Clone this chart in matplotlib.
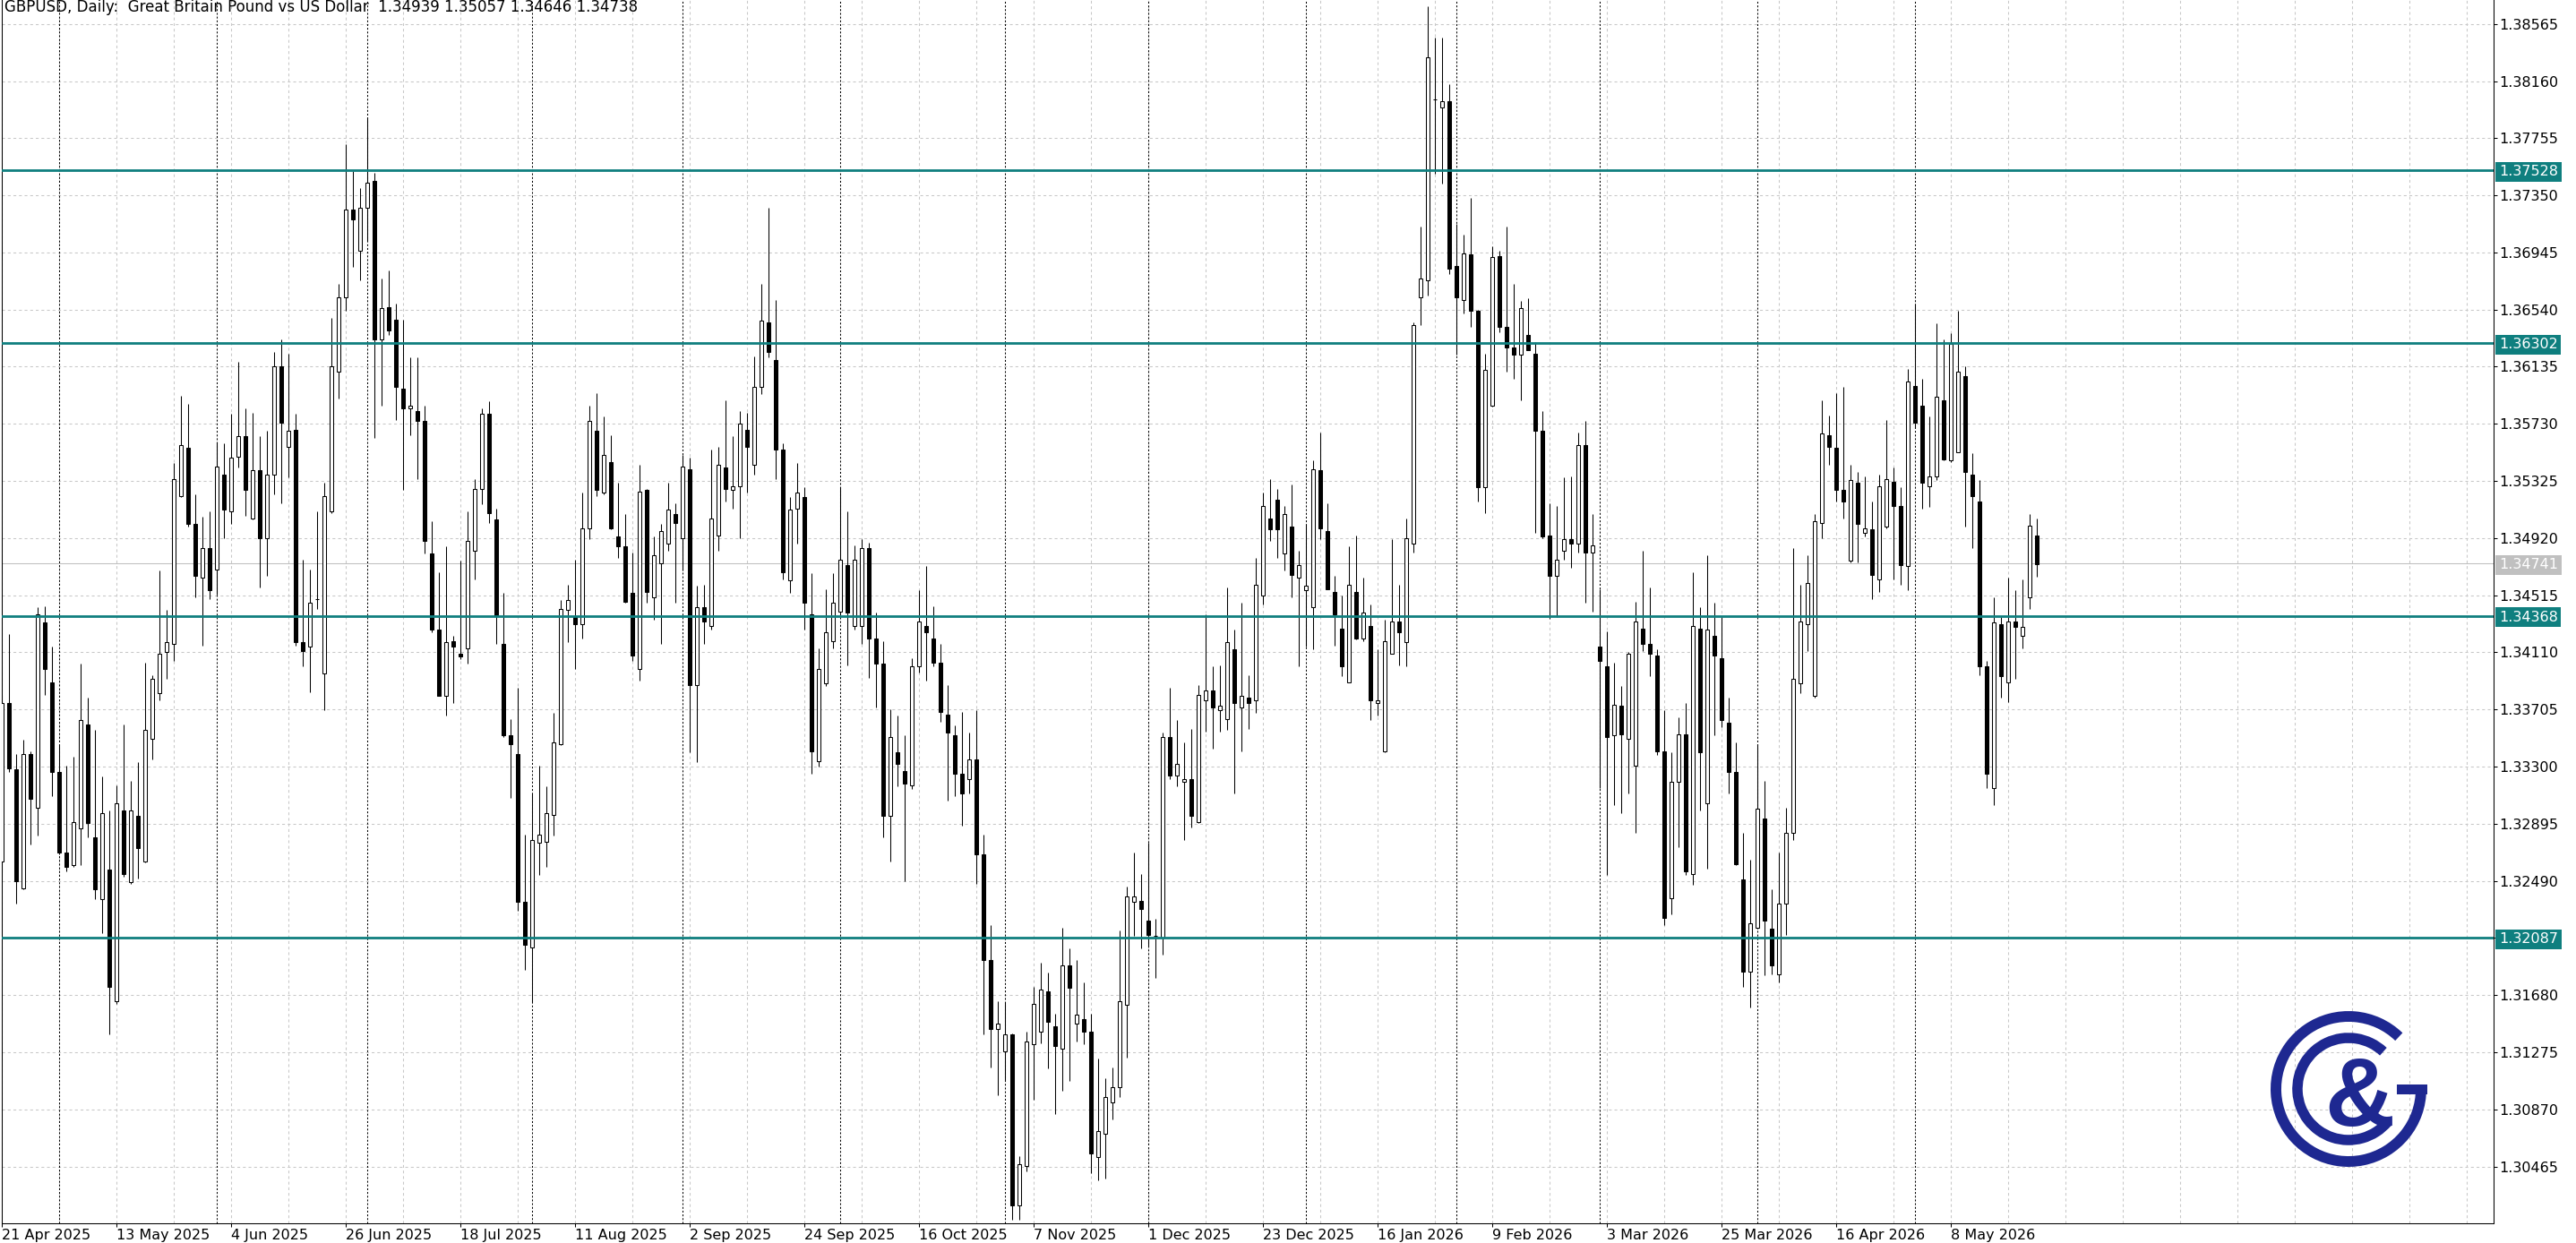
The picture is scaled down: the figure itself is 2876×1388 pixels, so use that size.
import matplotlib
matplotlib.use("Agg")
import matplotlib.pyplot as plt
import matplotlib.transforms as mtransforms
from matplotlib.patches import Arc, Rectangle
import numpy as np
import pandas as pd

plt.rcParams['font.family'] = ['DejaVu Sans']

# ---- daily GBPUSD candles (21 Apr 2025 .. 26 May 2026) ----
opens = [
    1.3263, 1.3375, 1.3328, 1.3244, 1.3339, 1.3301, 1.3432, 1.3390, 1.3326, 1.3269,
    1.3260, 1.3286, 1.3360, 1.3280, 1.3236, 1.3257, 1.3164, 1.3299, 1.3248, 1.3295,
    1.3263, 1.3350, 1.3382, 1.3411, 1.3417, 1.3522, 1.3556, 1.3502, 1.3464, 1.3485,
    1.3470, 1.3537, 1.3511, 1.3550, 1.3564, 1.3506, 1.3540, 1.3492, 1.3537, 1.3614,
    1.3557, 1.3569, 1.3418, 1.3415, 1.3449, 1.3396, 1.3511, 1.3610, 1.3663, 1.3725,
    1.3696, 1.3726, 1.3745, 1.3633, 1.3656, 1.3647, 1.3598, 1.3584, 1.3582, 1.3575,
    1.3481, 1.3427, 1.3380, 1.3419, 1.3410, 1.3414, 1.3483, 1.3527, 1.3580, 1.3505,
    1.3417, 1.3352, 1.3339, 1.3234, 1.3202, 1.3276, 1.3277, 1.3296, 1.3346, 1.3441,
    1.3436, 1.3431, 1.3499, 1.3568, 1.3524, 1.3546, 1.3493, 1.3486, 1.3453, 1.3399,
    1.3526, 1.3450, 1.3474, 1.3488, 1.3509, 1.3492, 1.3541, 1.3388, 1.3443, 1.3430,
    1.3494, 1.3542, 1.3526, 1.3529, 1.3569, 1.3544, 1.3599, 1.3645, 1.3618, 1.3555,
    1.3462, 1.3513, 1.3521, 1.3438, 1.3334, 1.3389, 1.3419, 1.3440, 1.3473, 1.3430,
    1.3430, 1.3485, 1.3421, 1.3403, 1.3295, 1.3340, 1.3327, 1.3317, 1.3401, 1.3430,
    1.3421, 1.3404, 1.3367, 1.3352, 1.3325, 1.3321, 1.3335, 1.3268, 1.3193, 1.3144,
    1.3128, 1.3140, 1.3019, 1.3047, 1.3133, 1.3142, 1.3171, 1.3146, 1.3130, 1.3189,
    1.3148, 1.3151, 1.3142, 1.3053, 1.3070, 1.3092, 1.3103, 1.3161, 1.3234, 1.3235,
    1.3221, 1.3210, 1.3209, 1.3351, 1.3324, 1.3319, 1.3321, 1.3291, 1.3377, 1.3384,
    1.3370, 1.3364, 1.3413, 1.3372, 1.3379, 1.3377, 1.3451, 1.3506, 1.3519, 1.3481,
    1.3500, 1.3464, 1.3455, 1.3443, 1.3540, 1.3497, 1.3454, 1.3428, 1.3390, 1.3454,
    1.3421, 1.3430, 1.3375, 1.3341, 1.3410, 1.3433, 1.3418, 1.3488, 1.3663, 1.3675,
    1.3803, 1.3797, 1.3802, 1.3685, 1.3661, 1.3693, 1.3653, 1.3528, 1.3586, 1.3692,
    1.3642, 1.3627, 1.3622, 1.3636, 1.3623, 1.3568, 1.3494, 1.3465, 1.3483, 1.3491,
    1.3488, 1.3558, 1.3482, 1.3415, 1.3401, 1.3352, 1.3373, 1.3350, 1.3331, 1.3428,
    1.3417, 1.3409, 1.3341, 1.3237, 1.3319, 1.3353, 1.3254, 1.3428, 1.3304, 1.3423,
    1.3407, 1.3361, 1.3326, 1.3250, 1.3185, 1.3216, 1.3293, 1.3215, 1.3183, 1.3233,
    1.3283, 1.3389, 1.3431, 1.3380, 1.3503, 1.3565, 1.3556, 1.3526, 1.3476, 1.3531,
    1.3496, 1.3498, 1.3463, 1.3500, 1.3532, 1.3515, 1.3472, 1.3600, 1.3586, 1.3529,
    1.3536, 1.3590, 1.3547, 1.3553, 1.3607, 1.3537, 1.3518, 1.3401, 1.3315, 1.3431,
    1.3390, 1.3433, 1.3423, 1.3450, 1.34939,
]
highs = [
    1.3380, 1.3424, 1.3339, 1.3349, 1.3341, 1.3443, 1.3444, 1.3415, 1.3345, 1.3331,
    1.3337, 1.3403, 1.3379, 1.3356, 1.3323, 1.3299, 1.3317, 1.3360, 1.3320, 1.3333,
    1.3404, 1.3395, 1.3469, 1.3441, 1.3545, 1.3593, 1.3587, 1.3523, 1.3507, 1.3511,
    1.3560, 1.3559, 1.3580, 1.3617, 1.3584, 1.3581, 1.3564, 1.3568, 1.3624, 1.3633,
    1.3623, 1.3580, 1.3477, 1.3470, 1.3511, 1.3531, 1.3648, 1.3672, 1.3771, 1.3752,
    1.3740, 1.3790, 1.3751, 1.3676, 1.3682, 1.3658, 1.3647, 1.3620, 1.3620, 1.3586,
    1.3504, 1.3468, 1.3486, 1.3423, 1.3476, 1.3511, 1.3534, 1.3584, 1.3589, 1.3513,
    1.3453, 1.3364, 1.3386, 1.3282, 1.3311, 1.3331, 1.3316, 1.3368, 1.3448, 1.3459,
    1.3477, 1.3524, 1.3586, 1.3595, 1.3578, 1.3565, 1.3531, 1.3509, 1.3482, 1.3544,
    1.3527, 1.3493, 1.3502, 1.3531, 1.3517, 1.3551, 1.3549, 1.3458, 1.3459, 1.3555,
    1.3557, 1.3590, 1.3564, 1.3582, 1.3581, 1.3621, 1.3672, 1.3726, 1.3661, 1.3559,
    1.3521, 1.3545, 1.3528, 1.3467, 1.3414, 1.3456, 1.3467, 1.3528, 1.3511, 1.3487,
    1.3491, 1.3489, 1.3439, 1.3419, 1.3371, 1.3366, 1.3352, 1.3407, 1.3455, 1.3472,
    1.3444, 1.3417, 1.3388, 1.3359, 1.3369, 1.3354, 1.3370, 1.3282, 1.3218, 1.3164,
    1.3163, 1.3141, 1.3054, 1.3142, 1.3174, 1.3191, 1.3184, 1.3155, 1.3216, 1.3201,
    1.3193, 1.3177, 1.3155, 1.3123, 1.3109, 1.3117, 1.3214, 1.3245, 1.3269, 1.3254,
    1.3276, 1.3222, 1.3354, 1.3386, 1.3363, 1.3347, 1.3357, 1.3388, 1.3438, 1.3401,
    1.3402, 1.3457, 1.3427, 1.3446, 1.3395, 1.3478, 1.3524, 1.3534, 1.3527, 1.3515,
    1.3530, 1.3483, 1.3502, 1.3547, 1.3567, 1.3517, 1.3465, 1.3451, 1.3486, 1.3494,
    1.3464, 1.3445, 1.3413, 1.3434, 1.3491, 1.3459, 1.3506, 1.3645, 1.3713, 1.3869,
    1.3847, 1.3847, 1.3814, 1.3715, 1.3707, 1.3733, 1.3654, 1.3623, 1.3699, 1.3696,
    1.3713, 1.3672, 1.3660, 1.3662, 1.3631, 1.3582, 1.3517, 1.3515, 1.3535, 1.3536,
    1.3567, 1.3575, 1.3509, 1.3456, 1.3426, 1.3404, 1.3387, 1.3411, 1.3447, 1.3483,
    1.3457, 1.3413, 1.3370, 1.3340, 1.3365, 1.3375, 1.3468, 1.3443, 1.3480, 1.3446,
    1.3436, 1.3379, 1.3347, 1.3283, 1.3264, 1.3346, 1.3320, 1.3243, 1.3269, 1.3301,
    1.3485, 1.3459, 1.3480, 1.3509, 1.3590, 1.3579, 1.3595, 1.3599, 1.3544, 1.3539,
    1.3536, 1.3518, 1.3537, 1.3576, 1.3542, 1.3528, 1.3612, 1.3658, 1.3605, 1.3578,
    1.3644, 1.3633, 1.3637, 1.3653, 1.3614, 1.3552, 1.3533, 1.3405, 1.3450, 1.3436,
    1.3464, 1.3455, 1.3463, 1.3509, 1.35057,
]
lows = [
    1.3255, 1.3326, 1.3233, 1.3243, 1.3275, 1.3281, 1.3381, 1.3309, 1.3268, 1.3256,
    1.3259, 1.3260, 1.3280, 1.3236, 1.3212, 1.3140, 1.3162, 1.3252, 1.3247, 1.3251,
    1.3262, 1.3335, 1.3377, 1.3392, 1.3405, 1.3521, 1.3500, 1.3450, 1.3416, 1.3449,
    1.3452, 1.3492, 1.3502, 1.3542, 1.3508, 1.3505, 1.3457, 1.3465, 1.3523, 1.3517,
    1.3535, 1.3416, 1.3401, 1.3383, 1.3442, 1.3370, 1.3510, 1.3591, 1.3653, 1.3684,
    1.3675, 1.3703, 1.3563, 1.3586, 1.3636, 1.3576, 1.3526, 1.3565, 1.3534, 1.3481,
    1.3425, 1.3380, 1.3366, 1.3375, 1.3406, 1.3403, 1.3463, 1.3516, 1.3503, 1.3417,
    1.3351, 1.3308, 1.3228, 1.3186, 1.3163, 1.3253, 1.3259, 1.3281, 1.3345, 1.3418,
    1.3399, 1.3421, 1.3491, 1.3522, 1.3523, 1.3498, 1.3478, 1.3446, 1.3405, 1.3391,
    1.3446, 1.3434, 1.3417, 1.3483, 1.3446, 1.3469, 1.3340, 1.3333, 1.3417, 1.3427,
    1.3483, 1.3518, 1.3513, 1.3492, 1.3524, 1.3537, 1.3594, 1.3620, 1.3534, 1.3463,
    1.3453, 1.3488, 1.3427, 1.3325, 1.3330, 1.3387, 1.3414, 1.3438, 1.3402, 1.3427,
    1.3417, 1.3393, 1.3372, 1.3280, 1.3263, 1.3316, 1.3249, 1.3314, 1.3397, 1.3391,
    1.3401, 1.3362, 1.3306, 1.3309, 1.3288, 1.3311, 1.3247, 1.3140, 1.3117, 1.3097,
    1.3108, 1.3009, 1.3009, 1.3043, 1.3094, 1.3134, 1.3116, 1.3084, 1.3100, 1.3107,
    1.3135, 1.3133, 1.3042, 1.3037, 1.3038, 1.3080, 1.3096, 1.3124, 1.3210, 1.3201,
    1.3203, 1.3180, 1.3197, 1.3321, 1.3316, 1.3278, 1.3287, 1.3290, 1.3355, 1.3343,
    1.3355, 1.3356, 1.3311, 1.3341, 1.3357, 1.3368, 1.3445, 1.3490, 1.3478, 1.3469,
    1.3450, 1.3401, 1.3415, 1.3413, 1.3491, 1.3456, 1.3416, 1.3394, 1.3390, 1.3420,
    1.3419, 1.3363, 1.3366, 1.3340, 1.3410, 1.3402, 1.3401, 1.3482, 1.3643, 1.3664,
    1.3750, 1.3743, 1.3679, 1.3622, 1.3651, 1.3642, 1.3518, 1.3510, 1.3585, 1.3638,
    1.3610, 1.3605, 1.3590, 1.3625, 1.3496, 1.3492, 1.3435, 1.3436, 1.3477, 1.3471,
    1.3482, 1.3446, 1.3440, 1.3315, 1.3253, 1.3303, 1.3297, 1.3311, 1.3283, 1.3412,
    1.3394, 1.3338, 1.3218, 1.3225, 1.3273, 1.3253, 1.3246, 1.3299, 1.3258, 1.3352,
    1.3358, 1.3311, 1.3260, 1.3174, 1.3159, 1.3215, 1.3182, 1.3183, 1.3177, 1.3211,
    1.3278, 1.3382, 1.3412, 1.3379, 1.3492, 1.3544, 1.3518, 1.3506, 1.3475, 1.3475,
    1.3493, 1.3449, 1.3454, 1.3499, 1.3463, 1.3459, 1.3455, 1.3570, 1.3513, 1.3514,
    1.3533, 1.3547, 1.3546, 1.3553, 1.3500, 1.3485, 1.3395, 1.3315, 1.3303, 1.3379,
    1.3376, 1.3392, 1.3414, 1.3442, 1.34646,
]
closes = [
    1.3375, 1.3329, 1.3249, 1.3339, 1.3307, 1.3438, 1.3399, 1.3326, 1.3269, 1.3259,
    1.3291, 1.3363, 1.3290, 1.3243, 1.3297, 1.3174, 1.3304, 1.3254, 1.3299, 1.3272,
    1.3356, 1.3392, 1.3410, 1.3418, 1.3534, 1.3558, 1.3502, 1.3465, 1.3485, 1.3455,
    1.3543, 1.3512, 1.3549, 1.3564, 1.3526, 1.3540, 1.3492, 1.3537, 1.3614, 1.3574,
    1.3568, 1.3418, 1.3412, 1.3446, 1.3449, 1.3522, 1.3614, 1.3663, 1.3725, 1.3718,
    1.3726, 1.3744, 1.3633, 1.3655, 1.3639, 1.3599, 1.3584, 1.3586, 1.3575, 1.3490,
    1.3427, 1.3380, 1.3418, 1.3415, 1.3408, 1.3490, 1.3527, 1.3580, 1.3510, 1.3437,
    1.3352, 1.3346, 1.3234, 1.3204, 1.3278, 1.3282, 1.3297, 1.3347, 1.3442, 1.3448,
    1.3431, 1.3499, 1.3575, 1.3526, 1.3551, 1.3499, 1.3486, 1.3447, 1.3409, 1.3525,
    1.3454, 1.3480, 1.3497, 1.3512, 1.3503, 1.3543, 1.3388, 1.3443, 1.3433, 1.3506,
    1.3544, 1.3527, 1.3529, 1.3573, 1.3557, 1.3599, 1.3646, 1.3624, 1.3555, 1.3468,
    1.3512, 1.3524, 1.3446, 1.3341, 1.3399, 1.3425, 1.3446, 1.3477, 1.3439, 1.3477,
    1.3485, 1.3421, 1.3403, 1.3295, 1.3351, 1.3332, 1.3318, 1.3401, 1.3433, 1.3425,
    1.3404, 1.3369, 1.3354, 1.3325, 1.3311, 1.3335, 1.3268, 1.3193, 1.3144, 1.3148,
    1.3140, 1.3019, 1.3048, 1.3135, 1.3162, 1.3172, 1.3149, 1.3132, 1.3189, 1.3173,
    1.3154, 1.3142, 1.3056, 1.3072, 1.3096, 1.3103, 1.3164, 1.3238, 1.3238, 1.3229,
    1.3211, 1.3210, 1.3351, 1.3324, 1.3332, 1.3321, 1.3295, 1.3381, 1.3384, 1.3372,
    1.3373, 1.3418, 1.3375, 1.3380, 1.3375, 1.3459, 1.3515, 1.3498, 1.3498, 1.3509,
    1.3466, 1.3473, 1.3458, 1.3541, 1.3499, 1.3456, 1.3438, 1.3401, 1.3459, 1.3421,
    1.3439, 1.3377, 1.3377, 1.3419, 1.3433, 1.3425, 1.3492, 1.3643, 1.3676, 1.3833,
    1.3803, 1.3802, 1.3683, 1.3663, 1.3694, 1.3653, 1.3528, 1.3611, 1.3691, 1.3642,
    1.3627, 1.3622, 1.3655, 1.3625, 1.3568, 1.3493, 1.3465, 1.3477, 1.3491, 1.3488,
    1.3558, 1.3482, 1.3487, 1.3405, 1.3351, 1.3374, 1.3353, 1.3410, 1.3433, 1.3417,
    1.3410, 1.3341, 1.3223, 1.3319, 1.3353, 1.3256, 1.3430, 1.3340, 1.3427, 1.3409,
    1.3363, 1.3326, 1.3261, 1.3185, 1.3219, 1.3300, 1.3221, 1.3189, 1.3233, 1.3283,
    1.3392, 1.3433, 1.3460, 1.3504, 1.3566, 1.3557, 1.3526, 1.3518, 1.3533, 1.3502,
    1.3499, 1.3466, 1.3529, 1.3534, 1.3515, 1.3473, 1.3603, 1.3574, 1.3531, 1.3536,
    1.3592, 1.3548, 1.3630, 1.3610, 1.3539, 1.3522, 1.3401, 1.3325, 1.3432, 1.3394,
    1.3433, 1.3429, 1.3429, 1.3501, 1.34738,
]

level_lines = [1.37528, 1.36302, 1.34368, 1.32087]
last_bid = 1.34741
price_ticks = [1.38565, 1.38160, 1.37755, 1.37350, 1.36945, 1.36540, 1.36135,
               1.35730, 1.35325, 1.34920, 1.34515, 1.34110, 1.33705, 1.33300,
               1.32895, 1.32490, 1.32085, 1.31680, 1.31275, 1.30870, 1.30465]
title = "GBPUSD, Daily:  Great Britain Pound vs US Dollar  1.34939 1.35057 1.34646 1.34738"

# trading days (broker has no bars on 25 Dec and 1 Jan)
dates = pd.bdate_range("2025-04-21", "2026-05-26")
dates = dates[~dates.isin(pd.to_datetime(["2025-12-25", "2026-01-01"]))]
n = len(opens)
dates = dates[:n]
x = np.arange(n)

o = np.array(opens)
h = np.array(highs)
l = np.array(lows)
c = np.array(closes)
up = c >= o

teal = '#0f7f7f'
grid_c = '#c8c8c8'

W, H = 2876, 1388
fig = plt.figure(figsize=(W / 100, H / 100), dpi=100)
ax = fig.add_axes([2 / W, 22 / H, 2782 / W, 1366 / H])

#---- grid, month separators
for gx in range(0, 348, 8):
    ax.axvline(gx, color=grid_c, lw=0.75, ls=(0, (3, 3)), zorder=0.5)
for p in price_ticks:
    ax.axhline(p, color=grid_c, lw=0.75, ls=(0, (3, 3)), zorder=0.5)
month_start = [i for i in range(1, n) if dates[i].month != dates[i - 1].month]
for i in month_start:
    ax.axvline(i, color='black', lw=0.75, ls=(0, (2, 2)), zorder=0.8)

# current bid line
ax.axhline(last_bid, color='#c0c0c0', lw=0.75, zorder=1)

#---- candles
ax.vlines(x, l, h, color='black', lw=0.75, zorder=3)
ax.bar(x, np.abs(c - o), bottom=np.minimum(o, c), width=0.6,
       color=np.where(up, 'white', 'black'), edgecolor='black',
       linewidth=0.75, zorder=4)

#---- support / resistance levels
for lv in level_lines:
    ax.axhline(lv, color=teal, lw=2.0, zorder=5)

ax.set_xlim(0, 2782 / 8)
ax.set_ylim(1.300631, 1.387345)

for s in ['left', 'right', 'bottom']:
    ax.spines[s].set_color('black')
    ax.spines[s].set_linewidth(0.75)
ax.spines['top'].set_visible(False)

ax.yaxis.tick_right()
ax.set_yticks(price_ticks)
ax.set_yticklabels([f"{p:.5f}" for p in price_ticks])
ax.tick_params(axis='y', length=3, width=0.75, pad=1.5, labelsize=11.5)
xt = list(range(0, n, 16))
ax.set_xticks(xt)
ax.set_xticklabels([f"{dates[i].day} {dates[i].strftime('%b %Y')}" for i in xt], ha='left')
ax.tick_params(axis='x', length=3, width=0.75, pad=1, labelsize=11.5)

#---- price tags on the right
trans = mtransforms.blended_transform_factory(ax.transAxes, ax.transData)
tag_x = 1.0 + 6 / 2782
for lv in level_lines:
    ax.text(tag_x, lv, f"{lv:.5f}", transform=trans, ha='left', va='center_baseline',
            color='white', fontsize=11.5, zorder=10, clip_on=False,
            bbox=dict(boxstyle='square,pad=0.22', fc=teal, ec='none'))
ax.text(tag_x, last_bid, f"{last_bid:.5f}", transform=trans, ha='left', va='center_baseline',
        color='white', fontsize=11.5, zorder=10, clip_on=False,
        bbox=dict(boxstyle='square,pad=0.22', fc='#c0c0c0', ec='none'))

fig.text(5 / W, 1 + 1 / H, title, ha='left', va='top', fontsize=12)

#---- logo (pixel coordinates overlay)
ov = fig.add_axes([0, 0, 1, 1])
ov.set_xlim(0, W)
ov.set_ylim(H, 0)
ov.axis('off')
logo = '#1e2891'
cx, cy = 2622, 1216
ov.add_patch(Arc((cx, cy), 162, 162, theta1=0, theta2=314, lw=8.6, edgecolor=logo))
ov.add_patch(Arc((cx, cy), 114, 114, theta1=40, theta2=313, lw=8.3, edgecolor=logo))
ov.add_patch(Rectangle((2676, 1210.5), 34, 11.5, facecolor=logo, lw=0))
ov.text(2634, 1257, '&', ha='center', va='baseline', color=logo,
        fontsize=78, fontweight='bold', family=['Liberation Sans', 'DejaVu Sans'])

fig.savefig("out.png", dpi=100)
